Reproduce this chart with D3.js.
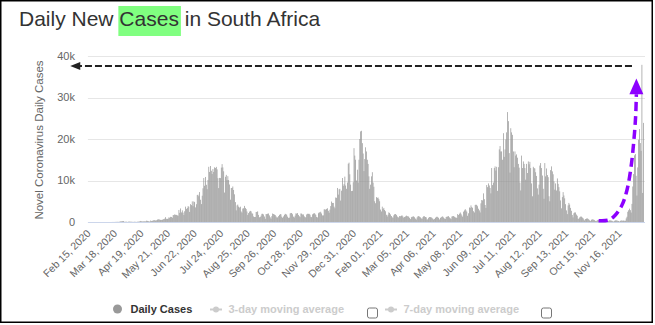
<!DOCTYPE html>
<html><head><meta charset="utf-8">
<script src="https://cdn.jsdelivr.net/npm/d3@7/dist/d3.min.js"></script>
<style>
html,body{margin:0;padding:0;background:#fff;}
svg{display:block;font-family:"Liberation Sans",Arial,Helvetica,sans-serif;}
</style></head>
<body><svg id="c" width="655" height="325"></svg>
<script>
// ---- data (daily new cases, South Africa, from Feb 15, 2020) ----
const startDate = "2020-02-15";
const feb2020 = [0,0,0,0,0,0,0,0,0,0,0,0,0,0,0];
const mar2020 = [0,0,0,0,1,0,1,1,4,0,6,4,7,14,13,11,23,31,34,52,38,34,128,152,155,218,243,17,93,48,73];
const apr2020 = [27,82,80,123,43,69,47,20,63,59,34,25,75,88,99,178,251,178,147,142,167,166,148,318,267,197,170,65,354,249];
const may2020 = [297,385,447,437,352,424,573,663,595,595,495,511,538,665,698,818,1160,767,732,832,1134,988,1240,1218,1032,1673,1673,1837,1727,1716,1605];
const jun2020 = [1512,2900,2212,3267,2313,2804,2257,1674,2594,3700,3147,3359,3809,3684,2430,4302,4078,4966,3825,4966,4800,3522,4288,6500,6579,6215,7210,5364,4312,6334];
const jul2020 = [8124,10600,8728,10853,8971,7902,10134,13300,12058,13497,12348,11554,12757,12058,13172,13000,13285,12685,10560,8170,10627,10585,13104,13944,13150,12224,7096,10900,11362,10107,11046];
const aug2020 = [10107,9031,5377,8195,8200,8559,7712,6670,4792,2810,4000,4200,3700,3500,3692,2541,2258,3239,3312,3880,3398,3125,2541,1677,2143,2505,2684,2552,2100,2006,1338];
const sep2020 = [1198,1218,2420,2420,2563,1714,1138,1212,1532,1968,1981,1819,1331,772,1923,1893,1997,2055,1587,1138,791,1411,2041,1923,1802,1681,1376,1107,1113,1418];
const oct2020 = [1688,1921,1850,1282,1019,1347,1700,1976,1913,1735,1293,1007,1048,2068,2179,2175,1873,1295,1100,1525,2079,2016,2145,1710,1398,1167,2057,2015,1818,1825,1373];
const nov2020 = [1158,1117,1825,1985,1972,1969,1751,1263,1172,1854,2013,2159,1975,1720,1224,1118,2120,2340,2283,2478,2058,1589,1600,3048,3064,2936,3164,3307,2703,2237];
const dec2020 = [2984,3837,4932,4600,4593,3694,3313,5907,5826,8200,6600,7882,7999,5163,7552,10600,8725,9126,10939,8789,7999,9500,14046,14305,11500,9000,7458,7500,9580,17800,16000];
const jan2021 = [15002,10000,12601,9502,15000,20000,21832,21980,19000,16500,12267,15166,18000,17000,15000,14000,11000,8000,9000,11000,12000,9500,8500,5000,4525,6000,5800,5900,5500,5000,3000];
const feb2021 = [2548,3700,3136,3394,2894,2591,1742,1327,1742,2320,2159,1837,1440,1127,1025,1601,1861,1931,1728,1349,1190,1050,1434,1401,1522,1568,1307,1028];
const mar2021 = [1218,1350,1541,1394,1402,1280,1003,706,1155,1248,1308,1366,1150,824,590,1090,1345,1428,1302,1128,892,723,1135,1379,1380,1200,1120,580,660,1015,1200];
const apr2021 = [1176,1127,1000,800,600,750,1000,1197,1305,1173,1000,631,970,1159,1257,1355,1096,852,756,1217,1279,1334,1413,1121,899,689,1322,1400,1426,1280];
const may2021 = [1100,1068,974,1900,1700,2000,2300,1982,1600,1285,2500,2800,3100,2800,2500,1500,2100,3500,3400,4000,3600,3400,2600,2300,4100,4200,4100,3800,3200,2800,2300];
const jun2021 = [4500,5300,5200,6900,5500,4100,3400,8900,8400,9300,8800,8200,6900,13000,8900,9500,13000,13400,12400,13300,7500,13200,17500,18300,17000,17000,15000,21400,15700,17500];
const jul2021 = [19900,21600,26485,24300,16600,11900,22600,21600,21000,17000,13200,17000,16000,16300,15500,14000,13100,9500,7600,16000,13000,14600,14000,13000,10200,14000,11800,14600,13900,14500,13000];
const aug2021 = [9300,6200,13300,13000,12900,12000,11100,8100,6600,9000,13600,14200,13000,11200,8000,5600,14200,11000,12900,11300,10800,6200,5000,12500,13400,12200,11500,9800,7800,9300,7600];
const sep2021 = [10500,9200,8400,7400,5200,3300,6000,7200,6400,5700,4300,2800,1900,4000,4600,4200,3400,2700,1700,1100,2100,2300,2300,1800,1500,800,760,1100,1300,1300];
const oct2021 = [1100,950,650,390,720,800,900,750,630,400,280,530,640,630,540,440,270,210,400,500,470,400,350,250,130,320,330,300,290,230,190];
const nov2021 = [110,280,400,390,340,280,180,100,300,390,400,340,290,240,140,280,390,310,320,350,310,300,870,1270,2460,2830,3220,2860,2270,4370];
const dec2021 = [8560,11540,16060,16370,11130,6380,13150,19840,22390,19020,17150,37875,7000,23880];

const tickLabels = ["Feb 15, 2020","Mar 18, 2020","Apr 19, 2020","May 21, 2020","Jun 22, 2020","Jul 24, 2020","Aug 25, 2020","Sep 26, 2020","Oct 28, 2020","Nov 29, 2020","Dec 31, 2020","Feb 01, 2021","Mar 05, 2021","Apr 06, 2021","May 08, 2021","Jun 09, 2021","Jul 11, 2021","Aug 12, 2021","Sep 13, 2021","Oct 15, 2021","Nov 16, 2021"];
const tickEvery = 32;
const yTicks = [0,10000,20000,30000,40000];
const yTickLabels = ["0","10k","20k","30k","40k"];
const legendItems = ["Daily Cases","3-day moving average","7-day moving average"];

// annotation anchors in data space: [day index, value]
const blackArrow = {from:[654,37600], to:[-23,37600]};
const purplePath = [[613.8,310],[625.9,480],[634,1690],[642,4100],[648,7700],[652.9,13300],[656,19000],[658.4,25400],[659.3,30800]];
const purpleTip = [659.3,34600];

// ---- build ----
const dailyCases = [].concat(feb2020,mar2020,apr2020,may2020,jun2020,jul2020,aug2020,sep2020,oct2020,nov2020,dec2020,
  jan2021,feb2021,mar2021,apr2021,may2021,jun2021,jul2021,aug2021,sep2021,oct2021,nov2021,dec2021);
const d0 = new Date(startDate+"T00:00:00");
const dates = dailyCases.map((v,i)=>d3.timeDay.offset(d0,i));
const cats = dates.map(d=>d3.timeFormat("%Y-%m-%d")(d));
const data = cats.map((c,i)=>({c, v:dailyCases[i], i}));

const svg = d3.select("#c");
svg.append("rect").attr("width",655).attr("height",325).attr("fill","#fff");

const plotL = 88.9, plotR = 644, plotT = 56, plotB = 222;
const x = d3.scaleBand().domain(cats).range([plotL, plotR]).paddingInner(0.2).paddingOuter(0.1);
const xi = d3.scaleLinear().domain([0, cats.length-1]).range([x(cats[0])+x.bandwidth()/2, x(cats[cats.length-1])+x.bandwidth()/2]);
const y = d3.scaleLinear().domain([0,40000]).range([plotB, plotT]);

// title highlight (drawn first, beneath the title)
const hl = svg.append("rect").attr("fill","#80ff80");

// grid
svg.append("g").selectAll("line").data(yTicks.slice(1)).join("line")
  .attr("x1",plotL-1).attr("x2",plotR+1)
  .attr("y1",d=>Math.round(y(d))+0.5).attr("y2",d=>Math.round(y(d))+0.5)
  .attr("stroke","#e6e6e6").attr("stroke-width",1);

// bars
svg.append("g").selectAll("rect").data(data).join("rect")
  .attr("x",d=>x(d.c)).attr("width",x.bandwidth())
  .attr("y",d=>y(d.v)).attr("height",d=>plotB-y(d.v))
  .attr("fill","#8e8e8e");

// x axis line
svg.append("line").attr("x1",plotL-1).attr("x2",plotR+1).attr("y1",plotB+0.5).attr("y2",plotB+0.5)
  .attr("stroke","#ccd6eb").attr("stroke-width",1);

// y labels
svg.append("g").selectAll("text").data(yTicks).join("text")
  .attr("x",75).attr("y",d=>y(d)).attr("dy","0.35em").attr("text-anchor","end")
  .attr("font-size",11).attr("fill","#666").text((d,i)=>yTickLabels[i]);

// y title
svg.append("text").attr("transform","translate(43,140) rotate(-90)").attr("text-anchor","middle")
  .attr("font-size",11.5).attr("fill","#666").text("Novel Coronavirus Daily Cases");

// x labels
svg.append("g").selectAll("text").data(tickLabels).join("text")
  .attr("transform",(d,i)=>`translate(${xi(i*tickEvery)+2},${plotB+12}) rotate(-45)`)
  .attr("text-anchor","end").attr("font-size",10.5).attr("fill","#666").text(d=>d);

// title with highlighted word
const title = svg.append("text").attr("x",19).attr("y",26).attr("font-size",21).attr("fill","#333")
  .text("Daily New Cases in South Africa");
const tn = title.node();
const s0 = tn.getSubStringLength(0,10), sw = tn.getSubStringLength(10,5);
hl.attr("x",19+s0-1).attr("y",6).attr("width",sw+3).attr("height",30);

// annotations
const ay = blackArrow.from[1];
const bx1 = xi(blackArrow.from[0]), bx2 = xi(blackArrow.to[0]);
svg.append("line").attr("x1",bx1).attr("x2",bx2+9).attr("y1",y(ay)).attr("y2",y(ay))
  .attr("stroke","#222").attr("stroke-width",2).attr("stroke-dasharray","7,3");
svg.append("path").attr("d",`M${bx2},${y(ay)} L${bx2+10},${y(ay)-4} L${bx2+10},${y(ay)+4} Z`).attr("fill","#222");

const pl = d3.line().x(d=>xi(d[0])).y(d=>y(d[1])).curve(d3.curveCatmullRom);
svg.append("path").attr("d",pl(purplePath)).attr("fill","none").attr("stroke","#8c00ff")
  .attr("stroke-width",3.5).attr("stroke-dasharray","9,5");
const tx = xi(purpleTip[0]), ty = y(purpleTip[1]), by = y(purplePath[purplePath.length-1][1]);
svg.append("path").attr("d",`M${tx},${ty} L${tx-7},${by} L${tx+7},${by} Z`).attr("fill","#8c00ff");

// legend
const lg = svg.append("g").attr("font-size",11).attr("font-weight","bold");
lg.append("circle").attr("cx",117.5).attr("cy",309).attr("r",4.5).attr("fill","#999");
lg.append("text").attr("x",130.5).attr("y",313).attr("fill","#333").text(legendItems[0]);
[[210,228.5,367.5],[385,403.5,541.5]].forEach((p,k)=>{
  lg.append("line").attr("x1",p[0]).attr("x2",p[0]+12).attr("y1",309.5).attr("y2",309.5).attr("stroke","#ccc").attr("stroke-width",2);
  lg.append("circle").attr("cx",p[0]+6).attr("cy",309.5).attr("r",3).attr("fill","#ccc");
  lg.append("text").attr("x",p[1]).attr("y",313).attr("fill","#ccc").text(legendItems[k+1]);
  lg.append("rect").attr("x",p[2]).attr("y",308).attr("width",10).attr("height",10).attr("rx",2)
    .attr("fill","#fff").attr("stroke","#777").attr("stroke-width",1);
});

// outer frame
svg.append("rect").attr("x",0.75).attr("y",0.75).attr("width",651.5).attr("height",321.5)
  .attr("fill","none").attr("stroke","#000").attr("stroke-width",1.5);
</script></body></html>
